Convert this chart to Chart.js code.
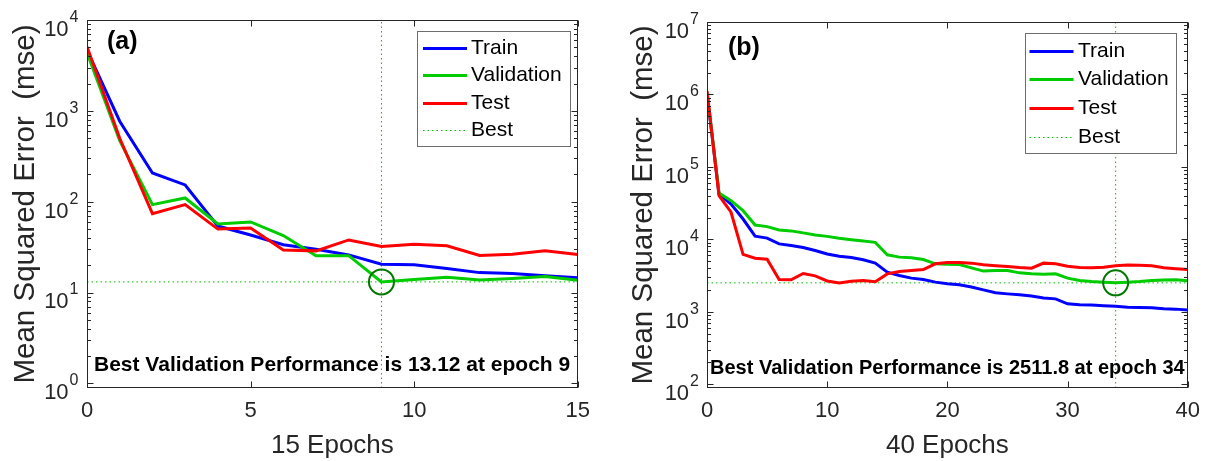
<!DOCTYPE html>
<html>
<head>
<meta charset="utf-8">
<script src="https://cdn.jsdelivr.net/npm/chart.js@4.4.1/dist/chart.umd.min.js"></script>
<style>
  html, body { margin: 0; padding: 0; background: #ffffff; }
  #wrap { position: relative; width: 1210px; height: 461px; overflow: hidden; background: #ffffff; }
  canvas { position: absolute; top: 0; }
  #perfA { left: 0; }
  #perfB { left: 600px; }
</style>
</head>
<body>
<div id="wrap">
  <canvas id="perfA" width="600" height="461"></canvas>
  <canvas id="perfB" width="610" height="461"></canvas>
</div>
<script>
// ---- Panel (a): 15 training epochs ----
const epochsA = [0, 1, 2, 3, 4, 5, 6, 7, 8, 9, 10, 11, 12, 13, 14, 15];
const trainA  = [4670, 769, 207, 153, 54, 43, 33.6, 30, 26, 20.5, 20.2, 18.4, 16.6, 16.2, 15.3, 14.6];
const validA  = [4370, 470, 93, 110, 57, 60, 42.5, 25.4, 25.5, 13.12, 13.9, 14.8, 13.8, 14.3, 15.0, 13.7];
const testA   = [5090, 500, 74, 93, 50, 51.3, 29.5, 28.8, 38, 32.1, 34.1, 32.7, 25.6, 26.5, 28.8, 26.2];
const bestEpochA = 9;
const bestValueA = 13.12;
const yDecadesA = [0, 1, 2, 3, 4];

// ---- Panel (b): 40 training epochs ----
const epochsB = [0, 1, 2, 3, 4, 5, 6, 7, 8, 9, 10, 11, 12, 13, 14, 15, 16, 17, 18, 19, 20,
                 21, 22, 23, 24, 25, 26, 27, 28, 29, 30, 31, 32, 33, 34, 35, 36, 37, 38, 39, 40];
const trainB  = [1.05e6, 42000, 30800, 19100, 11070, 10400, 8670, 8220, 7710, 7020, 6300,
                 5870, 5610, 5220, 4700, 3530, 3170, 2920, 2790, 2570, 2440,
                 2360, 2200, 2010, 1830, 1770, 1720, 1650, 1550, 1510, 1290,
                 1250, 1240, 1210, 1190, 1160, 1150, 1140, 1100, 1090, 1060];
const validB  = [1.08e6, 43700, 34200, 24900, 15800, 15000, 13500, 13100, 12300, 11500, 11000,
                 10400, 9900, 9500, 9100, 6120, 5690, 5560, 5270, 4600, 4550,
                 4500, 4050, 3650, 3730, 3730, 3450, 3350, 3310, 3350, 2920,
                 2700, 2620, 2570, 2511.8, 2570, 2620, 2700, 2740, 2780, 2680];
const testB   = [1.12e6, 40100, 23700, 6200, 5500, 5330, 2790, 2770, 3380, 3140, 2670,
                 2500, 2650, 2710, 2600, 3340, 3600, 3720, 3840, 4600, 4790,
                 4790, 4700, 4460, 4320, 4220, 4080, 4010, 4700, 4600, 4270,
                 4080, 4050, 4140, 4320, 4430, 4400, 4320, 4050, 3930, 3840];
const bestEpochB = 34;
const bestValueB = 2511.8;
const yDecadesB = [2, 3, 4, 5, 6, 7];

const FONT = '"Liberation Sans", Arial, Helvetica, sans-serif';
const INK = '#262626';
const C_TRAIN = 'rgb(0,0,255)';
const C_VALID = 'rgb(0,204,0)';
const C_TEST  = 'rgb(255,0,0)';
const C_BEST  = 'rgb(0,190,0)';
const C_MARK  = 'rgb(0,120,0)';

// Box, inward tick marks, power-of-ten labels, panel tag, caption and legend.
const axesDecor = {
  id: 'axesDecor',
  afterDatasetsDraw(chart, args, o) {
    const { ctx, chartArea: a, scales: { x, y } } = chart;
    ctx.save();
    const L = Math.round(a.left) + 0.5, R = Math.round(a.right) - 0.5;
    const T = Math.round(a.top) + 0.5, B = Math.round(a.bottom) - 0.5;

    ctx.strokeStyle = INK;
    ctx.lineWidth = 1;
    ctx.setLineDash([]);
    ctx.strokeRect(L, T, R - L, B - T);

    ctx.beginPath();
    for (const d of o.decades) {
      for (let m = 1; m <= 9; m++) {
        const v = m * Math.pow(10, d);
        if (v < y.min || v > y.max * 1.0001) continue;
        const py = Math.round(y.getPixelForValue(v)) + 0.5;
        const len = m === 1 ? 6 : 3.5;
        ctx.moveTo(L, py); ctx.lineTo(L + len, py);
        ctx.moveTo(R, py); ctx.lineTo(R - len, py);
      }
    }
    for (const t of x.ticks) {
      const px = Math.round(x.getPixelForValue(t.value)) + 0.5;
      ctx.moveTo(px, B); ctx.lineTo(px, B - 6);
      ctx.moveTo(px, T); ctx.lineTo(px, T + 6);
    }
    ctx.stroke();

    // 10^k labels on the y axis
    ctx.fillStyle = INK;
    ctx.textAlign = 'right';
    ctx.textBaseline = 'alphabetic';
    for (const d of o.decades) {
      const py = y.getPixelForValue(Math.pow(10, d));
      const xr = a.left - o.labelGap;
      ctx.font = o.supSize + 'px ' + FONT;
      const sup = String(d);
      const sw = ctx.measureText(sup).width;
      ctx.fillText(sup, xr, py + o.supDy);
      ctx.font = o.baseSize + 'px ' + FONT;
      ctx.fillText('10', xr - sw - 1, py + o.baseDy);
    }

    // panel tag
    ctx.fillStyle = '#000000';
    ctx.textAlign = 'left';
    ctx.font = 'bold ' + o.tag.size + 'px ' + FONT;
    ctx.fillText(o.tag.text, a.left + o.tag.dx, o.tag.baseline);

    // caption
    ctx.font = 'bold ' + o.caption.size + 'px ' + FONT;
    ctx.fillText(o.caption.text, a.left + o.caption.dx, o.caption.baseline);

    // legend
    const lg = o.legend;
    ctx.fillStyle = '#ffffff';
    ctx.fillRect(lg.x, lg.y, lg.w, lg.h);
    ctx.strokeStyle = '#6e6e6e';
    ctx.lineWidth = 1;
    ctx.strokeRect(lg.x + 0.5, lg.y + 0.5, lg.w, lg.h);
    const items = chart.data.datasets.filter(ds => ds.inLegend);
    ctx.font = lg.size + 'px ' + FONT;
    ctx.textBaseline = 'middle';
    items.forEach((ds, i) => {
      const ry = Math.round(lg.y + lg.row0 + i * lg.step) + 0.5;
      ctx.beginPath();
      ctx.strokeStyle = ds.borderColor;
      ctx.lineWidth = ds.borderWidth;
      ctx.setLineDash(ds.borderDash || []);
      ctx.moveTo(lg.x + lg.line0, ry);
      ctx.lineTo(lg.x + lg.line1, ry);
      ctx.stroke();
      ctx.setLineDash([]);
      ctx.fillStyle = '#000000';
      ctx.fillText(ds.label, lg.x + lg.textX, ry);
    });
    ctx.restore();
  }
};

function buildPanel(canvasId, p) {
  const series = arr => p.epochs.map((e, i) => ({ x: e, y: arr[i] }));
  const curve = (label, arr, color, order) => ({
    label, data: series(arr), borderColor: color, borderWidth: 3,
    pointRadius: 0, tension: 0, fill: false, order, inLegend: true
  });
  const xMin = p.epochs[0], xMax = p.epochs[p.epochs.length - 1];
  return new Chart(document.getElementById(canvasId), {
    type: 'line',
    data: {
      datasets: [
        curve('Train', p.train, C_TRAIN, 3),
        curve('Validation', p.valid, C_VALID, 2),
        curve('Test', p.test, C_TEST, 1),
        {
          label: 'Best', data: [{ x: p.bestEpoch, y: p.yMin }, { x: p.bestEpoch, y: p.yMax }],
          borderColor: C_BEST, borderWidth: 1, borderDash: [1.5, 3], pointRadius: 0,
          fill: false, order: 4, inLegend: true
        },
        {
          label: 'Best level', data: [{ x: xMin, y: p.bestValue }, { x: xMax, y: p.bestValue }],
          borderColor: C_BEST, borderWidth: 1, borderDash: [1.5, 3], pointRadius: 0,
          fill: false, order: 4
        },
        {
          label: 'Best point', data: [{ x: p.bestEpoch, y: p.bestValue }],
          showLine: false, pointRadius: p.markR, pointBorderWidth: 2,
          pointBorderColor: C_MARK, pointBackgroundColor: 'rgba(0,0,0,0)', order: 0
        }
      ]
    },
    options: {
      responsive: false,
      devicePixelRatio: 1,
      animation: false,
      events: [],
      layout: { padding: { left: 0, right: p.padRight, top: p.padTop, bottom: 0 } },
      scales: {
        x: {
          type: 'linear', min: xMin, max: xMax,
          ticks: { stepSize: p.xStep, color: INK, padding: 10, font: { family: FONT, size: 22 } },
          grid: { display: false, drawTicks: false },
          border: { display: false },
          title: { display: true, text: p.xTitle, color: INK, padding: { top: 0, bottom: 0 },
                   font: { family: FONT, size: 26, lineHeight: 1.2 } },
          afterFit: s => { s.height = p.xAxisHeight; }
        },
        y: {
          type: 'logarithmic', min: p.yMin, max: p.yMax, bounds: 'data',
          ticks: { display: false },
          grid: { display: false, drawTicks: false },
          border: { display: false },
          title: { display: true, text: 'Mean Squared Error  (mse)', color: INK,
                   padding: { top: p.yTitlePad, bottom: 0 },
                   font: { family: FONT, size: 29.5, lineHeight: 1.2 } },
          afterFit: s => { s.width = p.yAxisWidth; }
        }
      },
      plugins: {
        legend: { display: false },
        tooltip: { enabled: false },
        axesDecor: p.decor
      }
    },
    plugins: [axesDecor]
  });
}

buildPanel('perfA', {
  epochs: epochsA, train: trainA, valid: validA, test: testA,
  bestEpoch: bestEpochA, bestValue: bestValueA,
  yMin: 0.892, yMax: 1e4, xStep: 5, xTitle: '15 Epochs',
  padRight: 19, padTop: 20, xAxisHeight: 73, yAxisWidth: 87, yTitlePad: 8.3, markR: 12.5,
  decor: {
    decades: yDecadesA, labelGap: 8.5, supSize: 16, baseSize: 22, supDy: 1.8, baseDy: 15.8,
    tag: { text: '(a)', size: 25, dx: 20, baseline: 49 },
    caption: { text: 'Best Validation Performance is ' + bestValueA + ' at epoch ' + bestEpochA,
               size: 21, dx: 7, baseline: 370.5 },
    legend: { x: 417, y: 31, w: 153, h: 115, row0: 16.5, step: 27.5, line0: 6, line1: 50, textX: 54, size: 21 }
  }
});

buildPanel('perfB', {
  epochs: epochsB, train: trainB, valid: validB, test: testB,
  bestEpoch: bestEpochB, bestValue: bestValueB,
  yMin: 88.9, yMax: 1e7, xStep: 10, xTitle: '40 Epochs',
  padRight: 21, padTop: 22, xAxisHeight: 73, yAxisWidth: 107, yTitlePad: 26.3, markR: 12.5,
  decor: {
    decades: yDecadesB, labelGap: 8, supSize: 16, baseSize: 22, supDy: 1.8, baseDy: 15.8,
    tag: { text: '(b)', size: 25, dx: 21, baseline: 55 },
    caption: { text: 'Best Validation Performance is ' + bestValueB + ' at epoch ' + bestEpochB,
               size: 20, dx: 3, baseline: 374 },
    legend: { x: 425, y: 33, w: 151, h: 120, row0: 17.7, step: 28.67, line0: 4.5, line1: 48.5, textX: 53, size: 21 }
  }
});
</script>
</body>
</html>
